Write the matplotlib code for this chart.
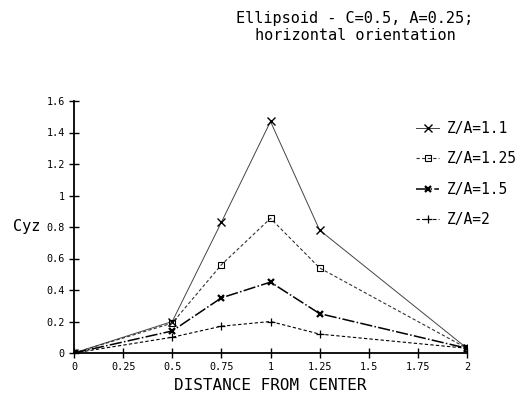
import matplotlib
matplotlib.use("Agg")
import matplotlib.pyplot as plt

distance = [0, 0.5, 0.75, 1.0, 1.25, 2.0]
cyz_11 = [0, 0.20, 0.83, 1.47, 0.78, 0.03]
cyz_125 = [0, 0.19, 0.56, 0.855, 0.54, 0.03]
cyz_15 = [0, 0.14, 0.35, 0.45, 0.25, 0.03]
cyz_2 = [0, 0.10, 0.17, 0.20, 0.12, 0.03]
labels = ["Z/A=1.1", "Z/A=1.25", "Z/A=1.5", "Z/A=2"]
xticks = [0, 0.25, 0.5, 0.75, 1, 1.25, 1.5, 1.75, 2]
xticklabels = ["0", "0.25", "0.5", "0.75", "1", "1.25", "1.5", "1.75", "2"]
yticks = [0, 0.2, 0.4, 0.6, 0.8, 1, 1.2, 1.4, 1.6]
yticklabels = ["0", "0.2", "0.4", "0.6", "0.8", "1", "1.2", "1.4", "1.6"]

plt.rcParams['font.family'] = ['DejaVu Sans Mono']

fig = plt.figure(figsize=(5.26, 3.98), dpi=100)
ax = fig.add_axes([74/526, 1-353/398, (467-74)/526, (353-101)/398])

ax.plot(distance, cyz_11, color='#444444', lw=0.7, ls='-', marker='x', ms=6, mew=1.0, mec='black', label=labels[0])
ax.plot(distance, cyz_125, color='#333333', lw=0.8, ls=(0, (3, 2)), marker='s', ms=5, mfc='none', mew=0.8, mec='black', label=labels[1])
ax.plot(distance, cyz_15, color='black', lw=1.1, ls=(0, (8, 1.5, 1, 1.5)), marker='x', ms=5, mew=1.6, mec='black', label=labels[2])
ax.plot(distance, cyz_2, color='black', lw=0.8, ls=(0, (3, 2)), marker='+', ms=6, mew=0.9, mec='black', label=labels[3])

ax.set_xlim(0, 2.0)
ax.set_ylim(0, 1.6)
ax.set_xticks(xticks)
ax.set_xticklabels(xticklabels, fontsize=7.3)
ax.set_yticks(yticks)
ax.set_yticklabels(yticklabels, fontsize=7.3)
ax.tick_params(direction='inout', length=7, width=1.0, pad=3)
for s in ['top', 'right']:
    ax.spines[s].set_visible(False)
for s in ['left', 'bottom']:
    ax.spines[s].set_linewidth(1.3)

ax.set_xlabel("DISTANCE FROM CENTER", fontsize=11.5, labelpad=4)
fig.text(13/526, 1-227/398, "Cyz", fontsize=11, va='center', ha='left')

fig.text(355/526, 1-27/398, "Ellipsoid - C=0.5, A=0.25;\nhorizontal orientation",
         fontsize=11, ha='center', va='center', linespacing=1.15)

leg = ax.legend(loc='upper left', bbox_to_anchor=(403/526, 1-108/398),
                bbox_transform=fig.transFigure, frameon=False, fontsize=10.5,
                handlelength=1.6, labelspacing=1.05, handletextpad=0.5)

fig.savefig("out.png", dpi=100)
